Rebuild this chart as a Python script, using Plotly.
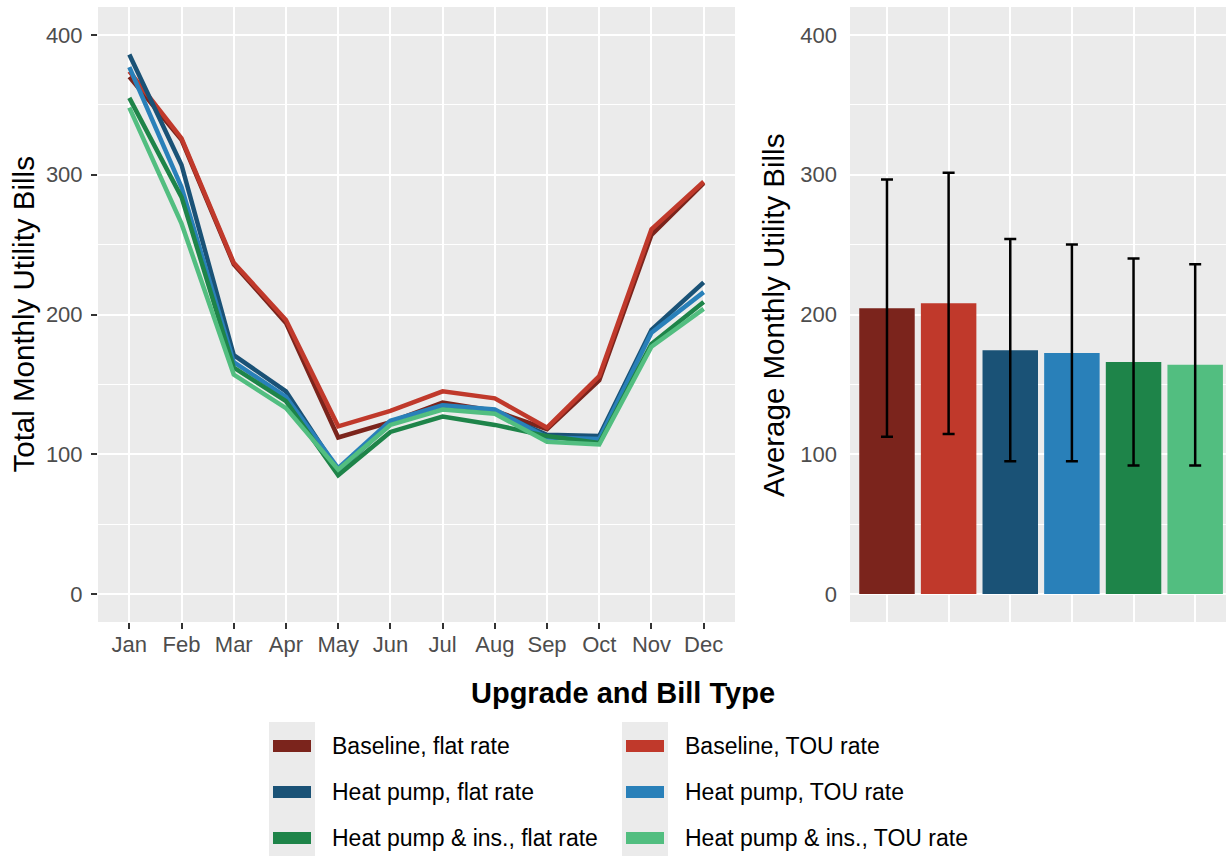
import plotly.graph_objects as go

# Monthly bills by upgrade / rate type
months = ["Jan", "Feb", "Mar", "Apr", "May", "Jun", "Jul", "Aug", "Sep", "Oct", "Nov", "Dec"]
series_names = [
    "Baseline, flat rate",
    "Baseline, TOU rate",
    "Heat pump, flat rate",
    "Heat pump, TOU rate",
    "Heat pump & ins., flat rate",
    "Heat pump & ins., TOU rate",
]
baseline_flat = [370, 325, 236, 194, 112, 123, 137, 131, 118, 153, 257, 294]
baseline_tou = [374, 326, 237, 196, 120, 131, 145, 140, 119, 156, 261, 295]
hp_flat = [386, 307, 171, 145, 88, 122, 135, 130, 114, 113, 189, 223]
hp_tou = [377, 291, 166, 141, 90, 124, 135, 132, 112, 111, 187, 216]
hpins_flat = [355, 284, 162, 138, 85, 116, 127, 121, 113, 108, 179, 209]
hpins_tou = [348, 265, 157, 133, 89, 121, 132, 129, 109, 107, 177, 204]

# Average monthly bill and its spread
avg_bill = [204.5, 208, 174.5, 172.5, 166, 164]
avg_sd = [92, 93.5, 79.5, 77.5, 74, 72]

colors = ["#7B241C", "#C0392B", "#1A5276", "#2980B9", "#1E8449", "#52BE80"]
y_ticks = [0, 100, 200, 300, 400]

W, H = 1226, 856
FONT = "Liberation Sans, Arial, sans-serif"


def px(x):
    return x / W


def py(y):
    return 1 - y / H


monthly = [baseline_flat, baseline_tou, hp_flat, hp_tou, hpins_flat, hpins_tou]

fig = go.Figure()

for name, vals, col in zip(series_names, monthly, colors):
    fig.add_trace(go.Scatter(
        x=months, y=vals, mode="lines", name=name,
        line=dict(color=col, width=4.5), xaxis="x", yaxis="y", showlegend=False,
    ))

fig.add_trace(go.Bar(
    x=series_names, y=avg_bill, marker=dict(color=colors, line=dict(width=0)),
    width=0.9, xaxis="x2", yaxis="y2", showlegend=False,
    error_y=dict(type="data", array=avg_sd, visible=True, color="black",
                 thickness=2.5, width=6),
))

grid = dict(showgrid=True, gridcolor="white", gridwidth=2.2, zeroline=False)
minor = dict(dtick=50, showgrid=True, gridcolor="white", gridwidth=1.1, ticks="")
tickfont = dict(family=FONT, size=22, color="#4D4D4D")

fig.update_layout(
    width=W, height=H,
    margin=dict(l=0, r=0, t=0, b=0),
    paper_bgcolor="white", plot_bgcolor="#EBEBEB",
    font=dict(family=FONT),
    bargap=0.1,
    xaxis=dict(
        domain=[px(98), px(735)], range=[-0.6, 11.6], type="category",
        ticks="outside", ticklen=6, tickwidth=2, tickcolor="#333333",
        tickfont=tickfont, anchor="y", showline=False, ticklabelstandoff=-3,
        **grid,
    ),
    yaxis=dict(
        domain=[py(622), py(7)], range=[-20, 420], tickvals=y_ticks,
        ticks="outside", ticklen=6, tickwidth=2, tickcolor="#333333",
        tickfont=tickfont, anchor="x", minor=minor, ticklabelstandoff=4, **grid,
    ),
    xaxis2=dict(
        domain=[px(850), 1.0], range=[-0.6, 5.5], type="category",
        showticklabels=False, ticks="", anchor="y2", **grid,
    ),
    yaxis2=dict(
        domain=[py(622), py(7)], range=[-20, 420], tickvals=y_ticks,
        ticks="", tickfont=tickfont, anchor="x2", minor=minor,
        ticklabelstandoff=12, **grid,
    ),
)

annotations = [
    dict(text="Total Monthly Utility Bills", x=px(23), y=py(314.5), textangle=-90,
         font=dict(family=FONT, size=29.5, color="black")),
    dict(text="Average Monthly Utility Bills", x=px(773), y=py(316), textangle=-90,
         font=dict(family=FONT, size=29.5, color="black")),
    dict(text="<b>Upgrade and Bill Type</b>", x=px(623), y=py(693),
         font=dict(family=FONT, size=29, color="black")),
]
shapes = []

# Legend: two columns of grey keys with coloured swatches
col_key_x = [269, 622]
col_text_x = [330, 683]
row_y = [746, 792, 838]
for c in range(2):
    shapes.append(dict(type="rect", xref="paper", yref="paper",
                       x0=px(col_key_x[c]), x1=px(col_key_x[c] + 46),
                       y0=py(H + 4), y1=py(722), fillcolor="#EBEBEB",
                       line=dict(width=0), layer="below"))
for i, name in enumerate(series_names):
    c, r = i % 2, i // 2
    kx = col_key_x[c]
    shapes.append(dict(type="rect", xref="paper", yref="paper",
                       x0=px(kx + 4), x1=px(kx + 42),
                       y0=py(row_y[r] + 6), y1=py(row_y[r] - 6),
                       fillcolor=colors[i], line=dict(width=0)))
    annotations.append(dict(text=name, x=px(col_text_x[c]), y=py(row_y[r]),
                            xanchor="left", yanchor="middle",
                            font=dict(family=FONT, size=23, color="black")))

for a in annotations:
    a.setdefault("xref", "paper")
    a.setdefault("yref", "paper")
    a.setdefault("showarrow", False)
    a.setdefault("xanchor", "center")
    a.setdefault("yanchor", "middle")

fig.update_layout(annotations=annotations, shapes=shapes)

fig.write_html("out.html")
